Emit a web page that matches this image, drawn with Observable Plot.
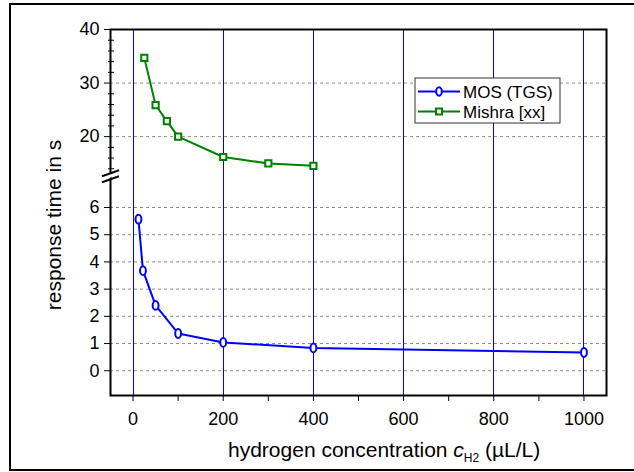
<!DOCTYPE html>
<html><head><meta charset="utf-8">
<script src="https://cdn.jsdelivr.net/npm/d3@7"></script>
<script src="https://cdn.jsdelivr.net/npm/@observablehq/plot@0.6"></script>
<style>
body{margin:0;background:#fff}
svg{font-family:"Liberation Sans",Arial,sans-serif}
</style>
</head><body><div id="chart"></div>
<script>
// ---- data ----
const mosX = [12, 22, 50, 100, 200, 400, 1000];
const mosY = [5.57, 3.68, 2.40, 1.37, 1.04, 0.84, 0.67];
const mishraX = [25, 50, 75, 100, 200, 300, 400];
const mishraY = [34.7, 25.9, 22.9, 20.0, 16.2, 15.0, 14.55];
const seriesNames = ["MOS (TGS)", "Mishra [xx]"];
const xTickLabels = [0, 200, 400, 600, 800, 1000];
const xMinorTicks = [0, 100, 200, 300, 400, 500, 600, 700, 800, 900, 1000];
const yTicksLower = [0, 1, 2, 3, 4, 5, 6];
const yTicksUpper = [20, 30, 40];
const yMinorUpper = [14, 16, 18, 22, 24, 26, 28, 32, 34, 36, 38];
const xLabel = "hydrogen concentration ";
const yLabel = "response time in s";

// broken y axis: lower segment linear, upper segment compressed
const UP_BASE = 8.605, UP_RATIO = 0.1969, BREAK_AT = 7.13;
const disp = v => v <= 10 ? v : UP_BASE + (v - 20) * UP_RATIO;
const inv = d => d <= BREAK_AT ? d : 20 + (d - UP_BASE) / UP_RATIO;
const fmt = d => String(Math.round(inv(d)));

const mos = mosX.map((x, i) => ({x, y: mosY[i]}));
const mishra = mishraX.map((x, i) => ({x, y: mishraY[i]}));

const ellipse = {
  draw(ctx, size) {
    const r = Math.sqrt(size / Math.PI), rx = r * 0.7, ry = r * 1.05, k = 0.5523;
    ctx.moveTo(rx, 0);
    ctx.bezierCurveTo(rx, k * ry, k * rx, ry, 0, ry);
    ctx.bezierCurveTo(-k * rx, ry, -rx, k * ry, -rx, 0);
    ctx.bezierCurveTo(-rx, -k * ry, -k * rx, -ry, 0, -ry);
    ctx.bezierCurveTo(k * rx, -ry, rx, -k * ry, rx, 0);
    ctx.closePath();
  }
};

const BLUE = "#0000ff", GREEN = "#008000";

const plot = Plot.plot({
  width: 634, height: 472,
  marginLeft: 110, marginRight: 28, marginTop: 29, marginBottom: 77,
  style: {fontFamily: "Liberation Sans, Arial, sans-serif", fontSize: "18px", background: "white", color: "black", overflow: "visible"},
  x: {domain: [-50, 1050]},
  y: {domain: [-0.91, disp(40)]},
  marks: [
    Plot.ruleY([...yTicksLower, 20, 30].map(disp), {stroke: "#8c8c8c", strokeDasharray: "3,3", strokeWidth: 1}),
    Plot.ruleX(xTickLabels, {stroke: BLUE, strokeWidth: 1, shapeRendering: "crispEdges"}),
    Plot.axisX({ticks: xMinorTicks, tickSize: 6, tickFormat: () => "", label: null}),
    Plot.axisX({ticks: xTickLabels, tickSize: 0, tickPadding: 17, tickFormat: d => String(d), label: null, fontSize: 18}),
    Plot.axisY({ticks: yTicksLower.map(disp), tickSize: 6, tickPadding: 5, tickFormat: fmt, label: null, fontSize: 18}),
    Plot.axisY({ticks: yTicksUpper.map(disp), tickSize: 6, tickPadding: 5, tickFormat: fmt, label: null, fontSize: 18}),
    Plot.axisY({ticks: yMinorUpper.map(disp), tickSize: -4, tickFormat: () => "", label: null}),
    Plot.axisY({ticks: yMinorUpper.map(disp), tickSize: 2, tickFormat: () => "", label: null}),
    Plot.line(mos, {x: "x", y: d => disp(d.y), stroke: BLUE, strokeWidth: 2}),
    Plot.dot(mos, {x: "x", y: d => disp(d.y), symbol: ellipse, r: 4.2, fill: "white", stroke: BLUE, strokeWidth: 2}),
    Plot.line(mishra, {x: "x", y: d => disp(d.y), stroke: GREEN, strokeWidth: 2}),
    Plot.dot(mishra, {x: "x", y: d => disp(d.y), symbol: "square", r: 3.5, fill: "white", stroke: GREEN, strokeWidth: 2}),
    Plot.frame({stroke: "black", strokeWidth: 2})
  ]
});

document.getElementById("chart").appendChild(plot);
const svg = d3.select(plot);
svg.selectAll("text")
  .filter(function () { return (this.parentNode.getAttribute("aria-label") || "").includes("tick label"); })
  .attr("font-size", 18).style("font-size", "18px");
const ys = plot.scale("y"), xs = plot.scale("x");
const x0 = xs.apply(-50);
const yb = ys.apply(BREAK_AT);

// axis break
svg.append("path")
  .attr("d", `M${x0 - 4},${yb + 4} L${x0 + 4},${yb - 1} L${x0 + 4},${yb - 5} L${x0 - 4},${yb + 0} Z`)
  .attr("fill", "white").attr("stroke", "none");
svg.append("path")
  .attr("d", `M${x0 - 8},${yb} L${x0 + 9},${yb - 6} M${x0 - 8},${yb + 6} L${x0 + 9},${yb}`)
  .attr("stroke", "black").attr("stroke-width", 2).attr("fill", "none");

// outer border
svg.append("rect").attr("x", 10).attr("y", 4).attr("width", 640).attr("height", 466)
  .attr("fill", "none").attr("stroke", "black").attr("stroke-width", 2);

// axis titles
svg.append("text")
  .attr("transform", "translate(61,225) rotate(-90)")
  .attr("text-anchor", "middle").style("font-size", "21px").attr("fill", "black")
  .text(yLabel);
const xt = svg.append("text").attr("x", 228).attr("y", 456.5).attr("text-anchor", "start")
  .style("font-size", "21px").attr("fill", "black");
xt.append("tspan").text(xLabel);
xt.append("tspan").attr("font-style", "italic").text("c");
xt.append("tspan").style("font-size", "12px").attr("dy", 5).text("H2");
xt.append("tspan").attr("dy", -5).text(" (µL/L)");

// legend
const lg = svg.append("g");
lg.append("rect").attr("x", 415).attr("y", 78).attr("width", 145).attr("height", 45)
  .attr("fill", "white").attr("stroke", "#333").attr("stroke-width", 1);
const rows = [{name: seriesNames[0], color: BLUE, sym: ellipse, y: 91.5},
              {name: seriesNames[1], color: GREEN, sym: d3.symbolSquare, y: 111.5}];
rows.forEach(r => {
  lg.append("line").attr("x1", 418).attr("x2", 460).attr("y1", r.y).attr("y2", r.y)
    .attr("stroke", r.color).attr("stroke-width", 2);
  lg.append("path").attr("transform", `translate(439,${r.y})`)
    .attr("d", d3.symbol(r.sym, Math.PI * (r.sym === ellipse ? 16 : 11.56))())
    .attr("fill", "white").attr("stroke", r.color).attr("stroke-width", 2);
  lg.append("text").attr("x", 463).attr("y", r.y + 6).attr("text-anchor", "start")
    .style("font-size", "17px").attr("fill", "black").text(r.name);
});
</script>
</body></html>
